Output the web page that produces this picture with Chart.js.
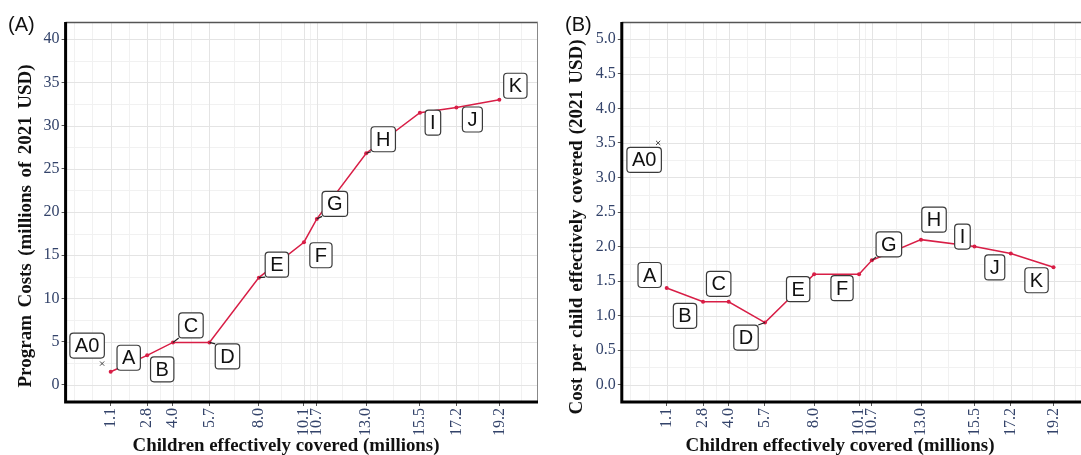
<!DOCTYPE html>
<html>
<head>
<meta charset="utf-8">
<script src="https://cdn.jsdelivr.net/npm/chart.js@4/dist/chart.umd.min.js"></script>
<style>
  html, body { margin: 0; padding: 0; background: #fff; width: 1081px; height: 455px; overflow: hidden; position: relative; }
  canvas { position: absolute; top: 0; }
  #costChart { left: 0; }
  #perChildChart { left: 541px; }
</style>
</head>
<body>
<canvas id="costChart" width="545" height="455"></canvas>
<canvas id="perChildChart" width="556" height="455"></canvas>
<script>
// ---- data ----
const programs        = ['A0', 'A', 'B', 'C', 'D', 'E', 'F', 'G', 'H', 'I', 'J', 'K'];
const childrenCovered = [0.7, 1.1, 2.8, 4.0, 5.7, 8.0, 10.1, 10.7, 13.0, 15.5, 17.2, 19.2];   // millions
const programCosts    = [2.45, 1.5, 3.4, 4.9, 4.9, 12.4, 16.5, 19.2, 26.8, 31.5, 32.1, 33.0]; // millions of 2021 USD
const costPerChild    = [3.5, 1.4, 1.2, 1.2, 0.9, 1.6, 1.6, 1.8, 2.1, 2.0, 1.9, 1.7];        // 2021 USD

const xTickLabels        = ['1.1', '2.8', '4.0', '5.7', '8.0', '10.1', '10.7', '13.0', '15.5', '17.2', '19.2'];
const costTickLabels     = ['0', '5', '10', '15', '20', '25', '30', '35', '40'];
const perChildTickLabels = ['0.0', '0.5', '1.0', '1.5', '2.0', '2.5', '3.0', '3.5', '4.0', '4.5', '5.0'];

const xBreaks        = xTickLabels.map(Number);
const costBreaks     = costTickLabels.map(Number);
const perChildBreaks = perChildTickLabels.map(Number);

// ---- styling ----
const LINE_RED   = '#d81e46';
const TICK_COLOR = '#33436a';
const TICK_FONT  = { family: '"Liberation Serif", "Times New Roman", serif', size: 16 };
const TITLE_FONT = 'bold 19px "Liberation Serif", "Times New Roman", serif';
const LABEL_FONT = '20px "Liberation Sans", Arial, sans-serif';

// minor breaks halfway between majors, extended one step past each end
function minorBreaks(b, lo, hi) {
  const ext = b.slice();
  if (lo < ext[0]) ext.unshift(ext[0] - (ext[1] - ext[0]));
  const n = ext.length;
  if (hi > ext[n - 1]) ext.push(ext[n - 1] + (ext[n - 1] - ext[n - 2]));
  const out = [];
  for (let i = 0; i < ext.length - 1; i++) out.push((ext[i] + ext[i + 1]) / 2);
  return out.concat(ext).filter(v => v >= lo && v <= hi && !b.includes(v));
}

// draws text centred on (cx, cy), spreading words or squeezing to span `span` px
function drawSpanned(ctx, text, cx, cy, span, rotation) {
  ctx.save();
  ctx.translate(cx, cy);
  ctx.rotate(rotation);
  ctx.font = TITLE_FONT;
  ctx.fillStyle = '#111';
  ctx.textBaseline = 'middle';
  ctx.textAlign = 'left';
  const words = text.split(' ');
  const widths = words.map(w => ctx.measureText(w).width);
  const total = widths.reduce((s, w) => s + w, 0);
  const space = ctx.measureText(' ').width;
  let gap = words.length > 1 ? (span - total) / (words.length - 1) : 0;
  let sx = 1;
  if (gap < space) { gap = space; const natural = total + gap * (words.length - 1); sx = span / natural; }
  ctx.scale(sx, 1);
  let x = -(span / sx) / 2;
  words.forEach((w, i) => { ctx.fillText(w, x, 0); x += widths[i] + gap; });
  ctx.restore();
}

function roundRect(ctx, x, y, w, h, r) {
  ctx.beginPath();
  ctx.moveTo(x + r, y);
  ctx.lineTo(x + w - r, y); ctx.arcTo(x + w, y, x + w, y + r, r);
  ctx.lineTo(x + w, y + h - r); ctx.arcTo(x + w, y + h, x + w - r, y + h, r);
  ctx.lineTo(x + r, y + h); ctx.arcTo(x, y + h, x, y + h - r, r);
  ctx.lineTo(x, y + r); ctx.arcTo(x, y, x + r, y, r);
  ctx.closePath();
}

const panelDecor = {
  id: 'panelDecor',
  beforeDatasetsDraw(chart, args, o) {
    const { ctx, chartArea: a, scales: { x, y } } = chart;
    ctx.save();
    ctx.beginPath(); ctx.rect(a.left, a.top, a.width, a.height); ctx.clip();
    const vline = v => { const px = Math.round(x.getPixelForValue(v)) + 0.5; ctx.beginPath(); ctx.moveTo(px, a.top); ctx.lineTo(px, a.bottom); ctx.stroke(); };
    const hline = v => { const py = Math.round(y.getPixelForValue(v)) + 0.5; ctx.beginPath(); ctx.moveTo(a.left, py); ctx.lineTo(a.right, py); ctx.stroke(); };
    ctx.lineWidth = 1;
    ctx.strokeStyle = '#f1f1f1';
    minorBreaks(xBreaks, x.min, x.max).forEach(vline);
    minorBreaks(o.yBreaks, y.min, y.max).forEach(hline);
    ctx.strokeStyle = '#e4e4e4';
    xBreaks.forEach(vline);
    o.yBreaks.forEach(hline);
    ctx.restore();
  },
  afterDraw(chart, args, o) {
    const { ctx, chartArea: a, scales: { x, y } } = chart;
    ctx.save();
    // panel frame: heavy axis lines on left and bottom, thin on top and right
    ctx.strokeStyle = '#555'; ctx.lineWidth = 1.5;
    ctx.beginPath(); ctx.moveTo(a.left, a.top + 0.5); ctx.lineTo(a.right, a.top + 0.5); ctx.stroke();
    ctx.strokeStyle = '#888'; ctx.lineWidth = 1;
    ctx.beginPath(); ctx.moveTo(a.right - 0.5, a.top); ctx.lineTo(a.right - 0.5, a.bottom); ctx.stroke();
    ctx.strokeStyle = '#000'; ctx.lineWidth = 3;
    ctx.beginPath(); ctx.moveTo(a.left, a.top); ctx.lineTo(a.left, a.bottom); ctx.lineTo(a.right, a.bottom); ctx.stroke();

    // program labels in boxes
    ctx.font = LABEL_FONT;
    ctx.textAlign = 'center';
    ctx.textBaseline = 'middle';
    programs.forEach((name, i) => {
      const px = x.getPixelForValue(childrenCovered[i]);
      const py = y.getPixelForValue(o.values[i]);
      const [dx, dy] = o.offsets[i];
      const w = ctx.measureText(name).width + 10, h = 25;
      const bx = px + dx - w / 2, by = py + dy - h / 2;
      if (o.segments.includes(name)) {
        const ex = Math.min(Math.max(px, bx), bx + w);
        const ey = Math.min(Math.max(py, by), by + h);
        ctx.strokeStyle = '#222'; ctx.lineWidth = 1.2;
        ctx.beginPath(); ctx.moveTo(px, py); ctx.lineTo(ex, ey); ctx.stroke();
      }
      roundRect(ctx, bx, by, w, h, 3.5);
      ctx.fillStyle = '#fff'; ctx.fill();
      ctx.strokeStyle = '#3a3a3a'; ctx.lineWidth = 1.2; ctx.stroke();
      ctx.fillStyle = '#111';
      ctx.fillText(name, px + dx, py + dy + 1);
    });

    // panel tag
    ctx.font = '20px "Liberation Sans", Arial, sans-serif';
    ctx.textAlign = 'left'; ctx.textBaseline = 'alphabetic'; ctx.fillStyle = '#111';
    ctx.fillText(o.tag[0], o.tag[1], o.tag[2]);
    ctx.restore();

    // axis titles
    drawSpanned(ctx, o.xTitle[0], o.xTitle[1], o.xTitle[2], o.xTitle[3], 0);
    drawSpanned(ctx, o.yTitle[0], o.yTitle[1], o.yTitle[2], o.yTitle[3], -Math.PI / 2);
  }
};

function makePanel(id, cfg) {
  const pts = (vals) => childrenCovered.map((c, i) => ({ x: c, y: vals[i] }));
  const all = pts(cfg.values);
  return new Chart(document.getElementById(id), {
    type: 'scatter',
    data: {
      datasets: [
        { data: all.slice(1), showLine: true, borderColor: LINE_RED, borderWidth: 1.5,
          pointRadius: 2, pointBackgroundColor: LINE_RED, pointBorderWidth: 0 },
        { data: all.slice(0, 1), pointStyle: 'crossRot', pointRadius: 3,
          borderColor: '#444', borderWidth: 1 }
      ]
    },
    options: {
      responsive: false,
      animation: false,
      events: [],
      layout: { padding: { left: 0, top: 22, right: cfg.padRight, bottom: 0 } },
      plugins: {
        legend: { display: false },
        tooltip: { enabled: false },
        panelDecor: cfg.decor
      },
      scales: {
        x: {
          type: 'linear', min: -1, max: 21,
          afterBuildTicks: s => { s.ticks = xBreaks.map(v => ({ value: v })); },
          afterFit: s => { s.height = 53; },
          ticks: { autoSkip: false, minRotation: 90, maxRotation: 90, padding: 2,
                   color: TICK_COLOR, font: TICK_FONT, callback: (v, i) => xTickLabels[i] },
          grid: { drawOnChartArea: false, tickLength: 4, color: '#555' },
          border: { display: false }
        },
        y: {
          type: 'linear', min: cfg.yMin, max: cfg.yMax,
          afterBuildTicks: s => { s.ticks = cfg.yBreaks.map(v => ({ value: v })); },
          afterFit: s => { s.width = cfg.yWidth; },
          ticks: { autoSkip: false, padding: 2, color: TICK_COLOR, font: TICK_FONT,
                   callback: (v, i) => cfg.yLabels[i] },
          grid: { drawOnChartArea: false, tickLength: 4, color: '#555' },
          border: { display: false }
        }
      }
    },
    plugins: [panelDecor]
  });
}

makePanel('costChart', {
  values: programCosts, yMin: -2, yMax: 42, yBreaks: costBreaks, yLabels: costTickLabels,
  yWidth: 65.6, padRight: 7,
  decor: {
    values: programCosts, yBreaks: costBreaks,
    offsets: [[-15, -18], [18, -14], [15, 14], [18, -17], [18, 14], [18, -13], [17, 13],
              [18, -15], [17, -14], [13, 10], [16, 12], [16, -14]],
    segments: ['C', 'D', 'E', 'G', 'H'],
    tag: ['(A)', 8, 31],
    xTitle: ['Children effectively covered (millions)', 286, 446, 307],
    yTitle: ['Program Costs (millions of 2021 USD)', 26, 226, 323]
  }
});

makePanel('perChildChart', {
  values: costPerChild, yMin: -0.25, yMax: 5.25, yBreaks: perChildBreaks, yLabels: perChildTickLabels,
  yWidth: 80.8, padRight: 5,
  decor: {
    values: costPerChild, yBreaks: perChildBreaks,
    offsets: [[-14, 17], [-17, -13], [-18, 14], [-10, -18], [-19, 15], [-16, 15], [-17, 14],
              [17, -16], [13, -20], [-12, -10], [-16, 14], [-17, 13]],
    segments: ['D', 'G'],
    tag: ['(B)', 24, 31],
    xTitle: ['Children effectively covered (millions)', 299, 446, 309],
    yTitle: ['Cost per child effectively covered (2021 USD)', 36, 227, 375]
  }
});
</script>
</body>
</html>
